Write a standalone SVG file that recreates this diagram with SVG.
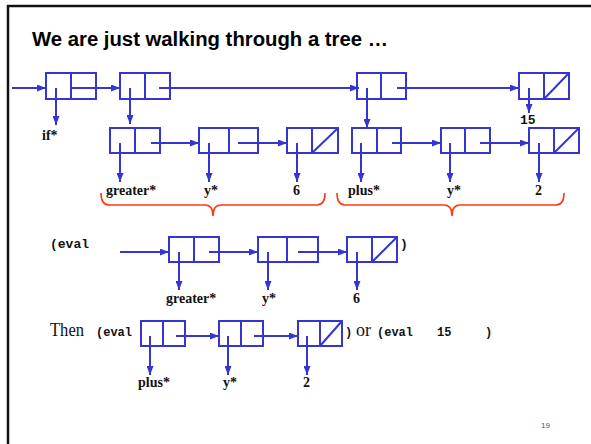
<svg xmlns="http://www.w3.org/2000/svg" width="591" height="444" viewBox="0 0 591 444">
  <style>
    .cell { fill: none; stroke: #3535d0; stroke-width: 2; }
    .wire { fill: none; stroke: #3535d0; stroke-width: 2; }
    .ptr { fill: none; stroke: #3535d0; stroke-width: 2; marker-end: url(#ah); }
    .brace { fill: none; stroke: #ff3a12; stroke-width: 1.6; }
    .sym { font-family: "Liberation Serif", "Times New Roman", serif; font-weight: bold; font-size: 14px; fill: #111; }
    .code { font-family: "Liberation Mono", "Courier New", monospace; font-weight: bold; font-size: 13px; fill: #111; }
    .code2 { font-family: "Liberation Mono", "Courier New", monospace; font-weight: bold; font-size: 12px; fill: #111; }
    .prose { font-family: "Liberation Serif", "Times New Roman", serif; font-size: 18px; fill: #111; }
    .title { font-family: "Liberation Sans", Arial, sans-serif; font-weight: bold; font-size: 20px; fill: #000; }
  </style>
  <defs>
    <marker id="ah" markerWidth="9" markerHeight="7" refX="9" refY="3.5" orient="auto" markerUnits="userSpaceOnUse">
      <path d="M0,0 L9,3.5 L0,7 z" fill="#3535d0"/>
    </marker>
  </defs>

  <rect width="591" height="444" fill="#fff"/>
  <!-- slide frame -->
  <path d="M8,444 V6 H591" fill="none" stroke="#111" stroke-width="2.5"/>

  <text class="title" x="32" y="46" textLength="356" lengthAdjust="spacingAndGlyphs">We are just walking through a tree …</text>

  <!-- top spine -->
  <g id="b1"><rect class="cell" x="46" y="73" width="50" height="26"/><line class="wire" x1="71" y1="73" x2="71" y2="99"/></g>
  <g id="b2"><rect class="cell" x="120" y="73" width="50" height="26"/><line class="wire" x1="145" y1="73" x2="145" y2="99"/></g>
  <g id="b3"><rect class="cell" x="357" y="73" width="49" height="26"/><line class="wire" x1="381" y1="73" x2="381" y2="99"/></g>
  <g id="b4"><rect class="cell" x="519" y="73" width="50" height="26"/><line class="wire" x1="544" y1="73" x2="544" y2="99"/><line class="wire" x1="544" y1="99" x2="569" y2="73"/></g>

  <!-- test sublist -->
  <g id="c1"><rect class="cell" x="110" y="128" width="50" height="25"/><line class="wire" x1="135" y1="128" x2="135" y2="153"/></g>
  <g id="c2"><rect class="cell" x="199" y="128" width="59" height="25"/><line class="wire" x1="229" y1="128" x2="229" y2="153"/></g>
  <g id="c3"><rect class="cell" x="287" y="128" width="51" height="25"/><line class="wire" x1="312" y1="128" x2="312" y2="153"/><line class="wire" x1="312" y1="153" x2="338" y2="128"/></g>

  <!-- then sublist -->
  <g id="d1"><rect class="cell" x="352" y="128" width="49" height="25"/><line class="wire" x1="377" y1="128" x2="377" y2="153"/></g>
  <g id="d2"><rect class="cell" x="441" y="128" width="49" height="25"/><line class="wire" x1="465" y1="128" x2="465" y2="153"/></g>
  <g id="d3"><rect class="cell" x="529" y="128" width="50" height="25"/><line class="wire" x1="554" y1="128" x2="554" y2="153"/><line class="wire" x1="554" y1="153" x2="579" y2="128"/></g>

  <!-- first eval list -->
  <g id="e1"><rect class="cell" x="169" y="237" width="50" height="25"/><line class="wire" x1="194" y1="237" x2="194" y2="262"/></g>
  <g id="e2"><rect class="cell" x="258" y="237" width="60" height="25"/><line class="wire" x1="287" y1="237" x2="287" y2="262"/></g>
  <g id="e3"><rect class="cell" x="347" y="237" width="50" height="25"/><line class="wire" x1="372" y1="237" x2="372" y2="262"/><line class="wire" x1="372" y1="262" x2="397" y2="237"/></g>

  <!-- second eval list -->
  <g id="f1"><rect class="cell" x="141" y="321" width="44" height="25"/><line class="wire" x1="163" y1="321" x2="163" y2="346"/></g>
  <g id="f2"><rect class="cell" x="219" y="321" width="44" height="25"/><line class="wire" x1="241" y1="321" x2="241" y2="346"/></g>
  <g id="f3"><rect class="cell" x="298" y="321" width="44" height="25"/><line class="wire" x1="320" y1="321" x2="320" y2="346"/><line class="wire" x1="320" y1="346" x2="342" y2="321"/></g>

  <g id="connectors">
    <path class="ptr" d="M12,88 H46"/>
    <path class="ptr" d="M71,88 H120"/>
    <path class="ptr" d="M159,88 H359"/>
    <path class="ptr" d="M397,88 H519"/>
    <path class="ptr" d="M56,88 V125"/>
    <path class="ptr" d="M130,88 V124"/>
    <path class="ptr" d="M367,88 V128"/>
    <path class="ptr" d="M529,88 V113"/>

    <path class="ptr" d="M151,143 H199"/>
    <path class="ptr" d="M238,143 H287"/>
    <path class="ptr" d="M392,143 H441"/>
    <path class="ptr" d="M480,143 H529"/>
    <path class="ptr" d="M120,143 V182"/>
    <path class="ptr" d="M209,143 V182"/>
    <path class="ptr" d="M297,143 V182"/>
    <path class="ptr" d="M361,143 V182"/>
    <path class="ptr" d="M450,143 V182"/>
    <path class="ptr" d="M539,143 V182"/>

    <path class="ptr" d="M120,252 H169"/>
    <path class="ptr" d="M209,252 H258"/>
    <path class="ptr" d="M298,252 H347"/>
    <path class="ptr" d="M179,252 V290"/>
    <path class="ptr" d="M268,252 V290"/>
    <path class="ptr" d="M357,252 V290"/>

    <path class="ptr" d="M176,336 H219"/>
    <path class="ptr" d="M254,336 H298"/>
    <path class="ptr" d="M150,336 V375"/>
    <path class="ptr" d="M228,336 V375"/>
    <path class="ptr" d="M307,336 V375"/>
  </g>

  <!-- braces under the two sublists -->
  <path class="brace" d="M101,193 Q101,205 109,205 H205 Q213,205 213,216 Q213,205 221,205 H317 Q325,205 325,193"/>
  <path class="brace" d="M337,193 Q337,205 345,205 H444 Q452,205 452,216 Q452,205 460,205 H556 Q564,205 564,193"/>

  <!-- labels -->
  <text class="sym" x="42" y="140">if*</text>
  <text class="code" x="520" y="124">15</text>
  <text class="sym" x="106" y="195">greater*</text>
  <text class="sym" x="204" y="195">y*</text>
  <text class="sym" x="293" y="195">6</text>
  <text class="sym" x="348" y="195">plus*</text>
  <text class="sym" x="447" y="195">y*</text>
  <text class="sym" x="535" y="195">2</text>

  <text class="code" x="50" y="248">(eval</text>
  <text class="code" x="400" y="248">)</text>
  <text class="sym" x="166" y="303">greater*</text>
  <text class="sym" x="262" y="303">y*</text>
  <text class="sym" x="353" y="303">6</text>

  <text class="prose" x="50" y="336" textLength="34" lengthAdjust="spacingAndGlyphs">Then</text>
  <text class="code2" x="96" y="336">(eval</text>
  <text class="code2" x="345" y="336">)</text>
  <text class="prose" x="356" y="336">or</text>
  <text class="code2" x="377" y="336">(eval</text>
  <text class="code2" x="437" y="336">15</text>
  <text class="code2" x="485" y="336">)</text>
  <text class="sym" x="138" y="387">plus*</text>
  <text class="sym" x="223" y="387">y*</text>
  <text class="sym" x="303" y="387">2</text>

  <text x="541" y="428" font-family="Liberation Sans, Arial, sans-serif" font-size="8" fill="#555">19</text>
</svg>
